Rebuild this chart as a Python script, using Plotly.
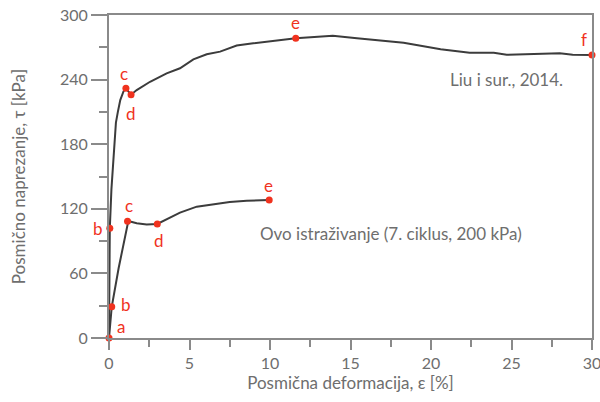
import plotly.graph_objects as go

# Liu i sur., 2014 curve
liu_x = [0, 0.01, 0.03, 0.05, 0.15, 0.3, 0.43, 0.55, 0.7, 0.9, 1.05, 1.2, 1.37, 1.72, 2.55, 3.58, 4.41,
         5.24, 6.07, 6.9, 7.93, 8.96, 10.2, 11.6, 13.9, 15.4, 18.3, 20.6, 22.4, 23.9, 24.7, 26.8, 28.0, 28.8, 30.0]
liu_y = [0, 40, 80, 102, 138, 174, 200, 210, 221, 229, 232, 229, 226, 230.3, 238, 245.8, 250.5,
         258.8, 263.5, 266, 271.6, 273.7, 276.1, 278.3, 280.8, 278.3, 274.3, 268.2, 265, 265, 263.1, 263.5, 264.4, 263.1, 262.8]

# Ovo istraživanje curve
ovo_x = [0, 0.05, 0.17, 0.6, 1.15, 1.2, 1.72, 2.34, 3.0, 3.58, 4.41, 5.45, 6.48, 7.5, 8.55, 9.95]
ovo_y = [0, 10, 29, 65, 108.5, 108.7, 106.5, 105.5, 105.9, 110.2, 116.4, 122, 124.5, 126.3, 127.5, 128.2]

# labelled points
liu_pt_x = [0.05, 1.05, 1.37, 11.6, 30.0]
liu_pt_y = [102, 232, 226, 278.3, 262.8]
liu_pt_lab = ["b", "c", "d", "e", "f"]
ovo_pt_x = [0, 0.17, 1.15, 3.0, 9.95]
ovo_pt_y = [0, 29, 108.5, 105.9, 128.2]
ovo_pt_lab = ["a", "b", "c", "d", "e"]

# label offsets (px)
liu_off = [(-12, 0), (-2, 15), (0, -19), (0, 16), (-8, 16)]
ovo_off = [(12, 12), (14, 2), (1, 16), (2, -17), (-1, 14)]

RED = "#f0321e"
LINE = "#3c3c3c"
GRAY = "#6e6e6e"
AX = "#8a8a8a"
FONT = "Lato"

fig = go.Figure()
fig.add_trace(go.Scatter(x=liu_x, y=liu_y, mode="lines", line=dict(color=LINE, width=2), showlegend=False))
fig.add_trace(go.Scatter(x=ovo_x, y=ovo_y, mode="lines", line=dict(color=LINE, width=2), showlegend=False))
fig.add_trace(go.Scatter(x=liu_pt_x, y=liu_pt_y, mode="markers", marker=dict(color=RED, size=7),
                         showlegend=False, cliponaxis=False))
fig.add_trace(go.Scatter(x=ovo_pt_x, y=ovo_pt_y, mode="markers", marker=dict(color=RED, size=7),
                         showlegend=False, cliponaxis=False))

ann = []
for xs, ys, labs, offs in [(liu_pt_x, liu_pt_y, liu_pt_lab, liu_off), (ovo_pt_x, ovo_pt_y, ovo_pt_lab, ovo_off)]:
    for x, y, t, (dx, dy) in zip(xs, ys, labs, offs):
        ann.append(dict(x=x, y=y, text=t, showarrow=False, xshift=dx, yshift=dy,
                        font=dict(color=RED, size=17, family=FONT)))
ann.append(dict(x=24.7, y=240, text="Liu i sur., 2014.", showarrow=False, xanchor="center",
                font=dict(color=GRAY, size=17, family=FONT)))
ann.append(dict(x=17.5, y=97, text="Ovo istraživanje (7. ciklus, 200 kPa)", showarrow=False, xanchor="center",
                font=dict(color=GRAY, size=17, family=FONT)))

fig.update_layout(
    width=600, height=402,
    margin=dict(l=109, r=8, t=15, b=64),
    plot_bgcolor="white", paper_bgcolor="white",
    annotations=ann,
    font=dict(family=FONT, color=GRAY, size=16),
)
fig.update_xaxes(range=[0, 30], dtick=5, tick0=0, ticks="outside", ticklen=10, tickwidth=2, tickcolor=AX,
                 showline=True, linecolor=AX, linewidth=2, mirror=True, showgrid=False, zeroline=False,
                 automargin=False, ticklabeloverflow="allow",
                 minor=dict(dtick=2.5, ticks="outside", ticklen=7, tickwidth=2, tickcolor=AX),
                 title=dict(text="Posmična deformacija, ε [%]", font=dict(size=17, color=GRAY), standoff=6),
                 tickfont=dict(size=16, color=GRAY))
fig.update_yaxes(range=[0, 300], dtick=60, tick0=0, ticks="outside", ticklen=16, tickwidth=2, tickcolor=AX,
                 showline=True, linecolor=AX, linewidth=2, mirror=True, showgrid=False, zeroline=False,
                 automargin=False, ticklabeloverflow="allow",
                 minor=dict(dtick=30, ticks="outside", ticklen=8, tickwidth=2, tickcolor=AX),
                 title=dict(text="Posmično naprezanje, τ [kPa]", font=dict(size=17, color=GRAY), standoff=30),
                 tickfont=dict(size=16, color=GRAY))

fig.write_html("out.html")
